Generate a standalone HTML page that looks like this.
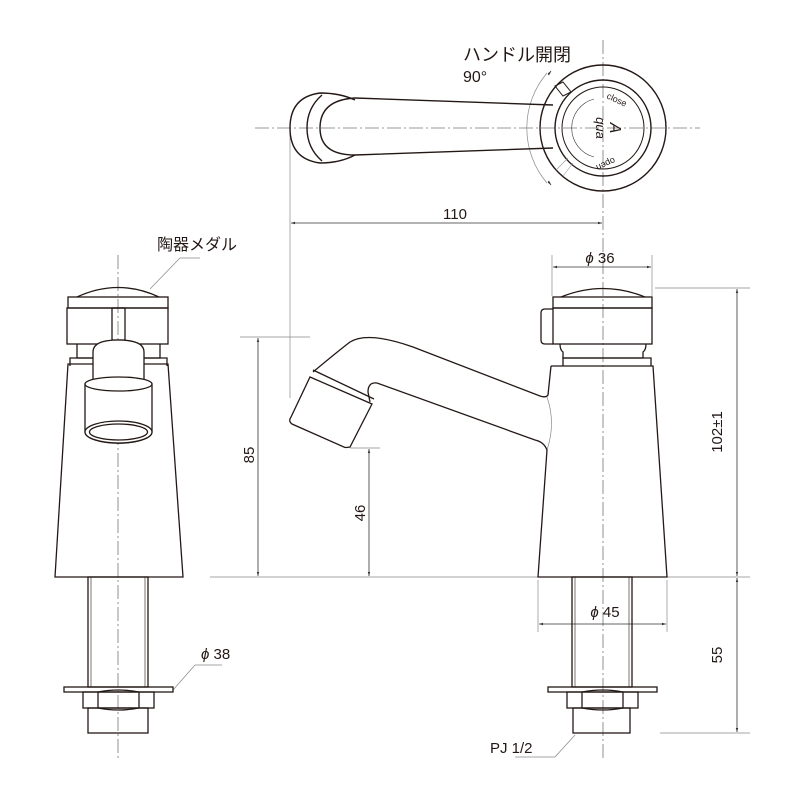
<!DOCTYPE html>
<html><head><meta charset="utf-8"><style>
html,body{margin:0;padding:0;background:#fff;}
svg{display:block;}
text{font-family:"Liberation Sans","Noto Sans CJK JP",sans-serif;fill:#231815;}
</style></head><body>
<svg width="800" height="800" viewBox="0 0 800 800" xmlns="http://www.w3.org/2000/svg">
<defs>
<marker id="a" viewBox="0 0 10 10" refX="10" refY="5" markerWidth="5" markerHeight="5" orient="auto-start-reverse"><path d="M0,2 L10,5 L0,8 z" fill="#333"/></marker>
</defs>
<g stroke="#777" stroke-width="0.8" stroke-dasharray="14,3,2,3" fill="none">
<line x1="255" y1="128" x2="700" y2="128"/>
<line x1="603" y1="40" x2="603" y2="760"/>
<line x1="118" y1="255" x2="118" y2="760"/>
</g>
<g stroke="#888" stroke-width="0.7" fill="none">
<line x1="290" y1="130" x2="290" y2="398"/>
<line x1="210" y1="577" x2="540" y2="577"/>
<line x1="665" y1="577" x2="750" y2="577"/>
<line x1="240" y1="337" x2="310" y2="337"/>
<line x1="350" y1="448" x2="380" y2="448"/>
<line x1="552" y1="255" x2="552" y2="296"/>
<line x1="652" y1="255" x2="652" y2="296"/>
<line x1="655" y1="288" x2="750" y2="288"/>
<line x1="660" y1="733" x2="750" y2="733"/>
<line x1="538" y1="580" x2="538" y2="632"/>
<line x1="667" y1="580" x2="667" y2="632"/>
<path d="M547,73 A85,85 0 0 0 547,183"/>
<path d="M173,690 L195,665 L222,665"/>
<path d="M575,735 L555,757 L515,757"/>
<path d="M150,289 L180,258 L200,258"/>
<path d="M547,397 Q556,423 547,450"/>
<line x1="310" y1="378" x2="348" y2="447" stroke="#aaa"/>
<line x1="318" y1="372" x2="372" y2="398" stroke="#aaa"/>
</g>
<g stroke="#333" stroke-width="0.8" fill="none">
<line x1="291" y1="223" x2="602" y2="223" marker-start="url(#a)" marker-end="url(#a)"/>
<line x1="553" y1="267" x2="651" y2="267" marker-start="url(#a)" marker-end="url(#a)"/>
<line x1="258" y1="338" x2="258" y2="576" marker-start="url(#a)" marker-end="url(#a)"/>
<line x1="369" y1="449" x2="369" y2="576" marker-start="url(#a)" marker-end="url(#a)"/>
<line x1="737" y1="289" x2="737" y2="576" marker-start="url(#a)" marker-end="url(#a)"/>
<line x1="737" y1="578" x2="737" y2="732" marker-start="url(#a)" marker-end="url(#a)"/>
<line x1="539" y1="624" x2="666" y2="624" marker-start="url(#a)" marker-end="url(#a)"/>
<line x1="548" y1="75" x2="551" y2="71" marker-end="url(#a)"/>
<line x1="548" y1="181" x2="551" y2="185" marker-end="url(#a)"/>
</g>
<g stroke="#231815" stroke-width="1.4" fill="none">
<path d="M355,100 Q340,93 320,93 Q290,97 290,128 Q290,159 320,163 Q340,163 355,155"/>
<path d="M322,95 Q307,108 307,128 Q307,148 322,161"/>
<path d="M355,98 Q320,100 320,128 Q320,155 355,155"/>
<path d="M355,98 L553,105 M355,155 L553,148"/>
<circle cx="603" cy="128" r="63"/>
<circle cx="603" cy="128" r="48"/>
<circle cx="603" cy="128" r="41" stroke-width="1"/>
<path d="M555,86 L563,82 L571,92 L563,96 z" stroke-width="1"/>
</g>
<g stroke="#999" stroke-width="0.6" fill="none">
<line x1="556" y1="170" x2="568" y2="158"/><line x1="563" y1="176" x2="573" y2="163"/>
<path d="M594,99 A30,30 0 0 0 594,157" stroke="#333"/>
</g>
<text x="606" y="98" font-size="9" transform="rotate(25 606 98)">close</text>
<text x="628" y="150" font-size="9" transform="rotate(155 620 152)">open</text>
<text x="596" y="128" font-size="13" font-family="Liberation Serif" font-style="italic" transform="rotate(90 596 128)" text-anchor="middle">qua</text>
<text x="612" y="130" font-size="16" font-family="Liberation Serif" font-style="italic" transform="rotate(90 612 128)" text-anchor="middle">A</text>
<text x="463" y="61" font-size="18">ハンドル開閉</text>
<text x="463" y="82" font-size="16">90°</text>
<text x="455" y="219" font-size="15" text-anchor="middle">110</text>
<text x="600" y="263" font-size="15" text-anchor="middle"><tspan font-style="italic">ϕ</tspan> 36</text>
<text x="605" y="617" font-size="15" text-anchor="middle"><tspan font-style="italic">ϕ</tspan> 45</text>
<text x="201" y="659" font-size="15"><tspan font-style="italic">ϕ</tspan> 38</text>
<text x="490" y="753" font-size="15">PJ 1/2</text>
<text x="157" y="250" font-size="16">陶器メダル</text>
<text x="0" y="0" font-size="15" text-anchor="middle" transform="translate(254,455) rotate(-90)">85</text>
<text x="0" y="0" font-size="15" text-anchor="middle" transform="translate(365,513) rotate(-90)">46</text>
<text x="0" y="0" font-size="15" text-anchor="middle" transform="translate(722,432) rotate(-90)">102±1</text>
<text x="0" y="0" font-size="15" text-anchor="middle" transform="translate(722,655) rotate(-90)">55</text>
<g stroke="#231815" stroke-width="1.3" fill="none">
<path d="M77,297 Q118,278 159,297"/>
<rect x="68" y="297" width="100" height="11"/>
<rect x="67" y="308" width="101" height="36"/>
<rect x="112" y="308" width="13" height="32"/>
<path d="M77,344 L77,358 L160,358 L160,344"/>
<path d="M70,366 L70,358 L167,358 L167,366"/>
<path d="M68,364 L168,364 L183,577 L55,577 Z"/>
<path d="M93,380 L93,352 Q93,340 118,340 Q144,340 144,352 L144,380" fill="#fff"/>
<path d="M85,384 L85,432 A33,11 0 0 0 152,432 L152,384 Z" fill="#fff"/>
<ellipse cx="118.5" cy="384" rx="33.5" ry="7" fill="#fff"/>
<ellipse cx="118.5" cy="432" rx="33.5" ry="11" fill="#fff"/>
<ellipse cx="118.5" cy="432" rx="29" ry="8"/>
<rect x="88" y="577" width="60" height="110"/>
<line x1="91" y1="577" x2="91" y2="687" stroke-width="0.6"/>
<line x1="145" y1="577" x2="145" y2="687" stroke-width="0.6"/>
<rect x="64" y="687" width="109" height="5"/>
<rect x="83" y="692" width="71" height="16"/>
<path d="M98,692 L98,708 M139,692 L139,708 M98,692 Q118,688 139,692 M98,708 Q118,712 139,708"/>
<rect x="88" y="708" width="60" height="25"/>
</g>
<g stroke="#231815" stroke-width="1.3" fill="none">
<path d="M561,297 Q603,280 645,297"/>
<rect x="553" y="297" width="99" height="11"/>
<rect x="553" y="308" width="99" height="36"/>
<path d="M553,309 L545,309 Q541,309 541,313 L541,340 Q541,344 545,344 L553,344"/>
<path d="M560,344 Q560,350 563,352 L563,358 L643,358 L643,352 Q646,350 646,344"/>
<path d="M563,366 L563,358 L651,358 L651,366"/>
<path d="M551,366 L653,366 L667,577 L538,577 L547,450 Q544,442 535,440 L377,383 Q368,382 368,392 L370,402"/>
<path d="M551,366 L548,395 Q546,398 540,396 L413,347 Q368,331 350,342 Q337,352 313,372"/>
<path d="M310,377 L372,404 L350,447 Q345,448 344,447 L292,424 Q288,421 291,417 Z" fill="#fff"/>
<line x1="313" y1="370" x2="374" y2="399"/>
<rect x="572" y="577" width="60" height="110"/>
<line x1="575" y1="577" x2="575" y2="687" stroke-width="0.6"/>
<line x1="629" y1="577" x2="629" y2="687" stroke-width="0.6"/>
<rect x="548" y="687" width="109" height="5"/>
<rect x="567" y="692" width="71" height="16"/>
<path d="M582,692 L582,708 M623,692 L623,708 M582,692 Q603,688 623,692 M582,708 Q603,712 623,708"/>
<rect x="573" y="708" width="57" height="25"/>
</g>
</svg>
</body></html>
